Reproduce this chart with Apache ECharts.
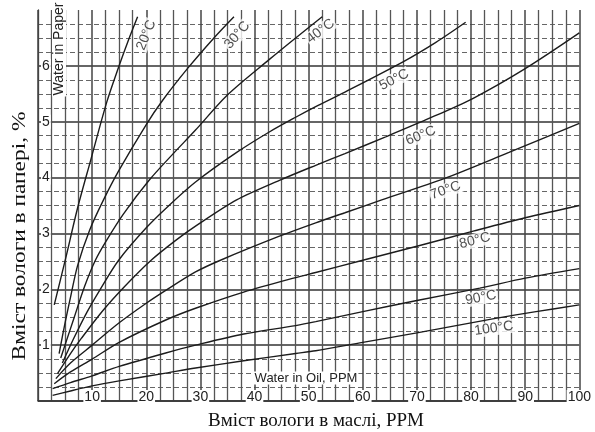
<!DOCTYPE html>
<html><head><meta charset="utf-8">
<script src="https://cdn.jsdelivr.net/npm/echarts@6/dist/echarts.min.js"></script>
<style>html,body{margin:0;padding:0;background:#fff}#c{width:595px;height:432px}</style>
</head><body><div id="c"></div>
<script>
// ---- data (ppm water in oil, % water in paper) ----
const temperatures = ['20°C','30°C','40°C','50°C','60°C','70°C','80°C','90°C','100°C'];
const curve20 = [[3.0,1.72],[5.1,2.55],[7.3,3.45],[9.7,4.3],[12.7,5.35],[14.9,5.98],[16.7,6.46],[18.4,6.88]];
const curve30 = [[3.9,0.85],[5.0,1.4],[6.1,1.9],[7.3,2.42],[9.5,3.05],[12.1,3.6],[14.9,4.12],[20,4.95],[23,5.38],[27.6,5.95],[32.5,6.5],[36.2,6.88]];
const curve40 = [[4.2,0.77],[6.7,1.5],[8.6,2.05],[10.6,2.52],[12.5,2.85],[15.8,3.35],[20.6,3.96],[24.9,4.42],[29.1,4.85],[34.9,5.47],[42.8,6.12],[47.6,6.5],[52.5,6.88]];
const curve50 = [[4.5,0.68],[6.5,1.1],[9.1,1.6],[11.5,2.0],[14.9,2.52],[20,3.1],[24.2,3.5],[29.1,3.92],[36.7,4.45],[42.8,4.82],[47.6,5.08],[51.3,5.27],[56.7,5.53],[67.6,6.08],[73.5,6.42],[79,6.78]];
const curve60 = [[3.6,0.49],[6,0.85],[8,1.12],[12,1.62],[16,2.05],[20.9,2.52],[25.5,2.88],[29.1,3.13],[36.7,3.6],[44.6,3.95],[51.3,4.22],[56.7,4.43],[64,4.72],[71.8,5.04],[80.4,5.42],[90,5.95],[100,6.59]];
const curve70 = [[3.3,0.4],[6,0.68],[10,1.0],[15,1.4],[20,1.75],[23.6,1.98],[29.1,2.31],[33.7,2.52],[44.6,2.95],[51.3,3.19],[56.7,3.37],[63.5,3.6],[75,3.98],[87,4.45],[100,4.97]];
const curve80 = [[3.0,0.31],[6,0.52],[10,0.75],[15,1.05],[23.6,1.45],[29.1,1.66],[38,1.95],[47.6,2.21],[51.3,2.3],[60,2.52],[70,2.77],[80.4,3.04],[90,3.28],[100,3.5]];
const curve90 = [[2.7,0.22],[6,0.33],[10,0.45],[15,0.62],[23.6,0.86],[29.1,1.0],[38,1.2],[47.6,1.35],[51.3,1.42],[60,1.6],[70,1.8],[81.6,2.02],[90,2.2],[100,2.37]];
const curve100 = [[2.7,0.1],[6,0.18],[10,0.27],[15,0.36],[23.6,0.5],[29.1,0.59],[38,0.72],[47.6,0.85],[51.3,0.9],[60,1.05],[70,1.22],[84,1.47],[92,1.6],[100,1.72]];
const xTickLabels = [10,20,30,40,50,60,70,80,90,100];
const yTickLabels = [1,2,3,4,5,6];

const curves = [curve20,curve30,curve40,curve50,curve60,curve70,curve80,curve90,curve100];

// ---- label placement (data coordinates) and angles ----
const labelAnchors = [[20.0,6.55],[36.8,6.55],[52.2,6.62],[65.8,5.75],[70.7,4.75],[75.3,3.77],[80.7,2.87],[81.8,1.85],[84.2,1.3]];
const labelAngles = [68,50,37,27,22,19,14,11,8];

const chart = echarts.init(document.getElementById('c'), null, {renderer:'canvas'});
const narrow = "'Liberation Sans Narrow','Liberation Sans',Arial,sans-serif";

const series = curves.map((d,i)=>({
  type:'line', name:temperatures[i], data:d, smooth:0.3, symbol:'none',
  lineStyle:{color:'#1c1c1c', width:1.4}, z:3, silent:true
}));
series.push({
  type:'scatter', symbolSize:1, itemStyle:{color:'rgba(0,0,0,0)'}, z:5, silent:true,
  data: labelAnchors.map((p,i)=>({value:p, label:{rotate:labelAngles[i], formatter:temperatures[i]}})),
  label:{show:true, position:'inside', fontFamily:narrow, fontSize:14, color:'#222',
         backgroundColor:'#fff', padding:[0,1]}
});

chart.setOption({
  animation:false,
  backgroundColor:'#fff',
  grid:{left:38, right:8, top:10, bottom:31, containLabel:false},
  xAxis:{
    type:'value', min:0, max:100, interval:10,
    axisLine:{show:true, lineStyle:{color:'#333', width:1.5}},
    axisTick:{show:false},
    axisLabel:{showMinLabel:false, formatter:v=>xTickLabels.includes(v)?String(v):'',
      verticalAlign:'middle', margin:-4, fontFamily:narrow, fontSize:14, color:'#222',
      backgroundColor:'#fff', padding:[0,1]},
    splitLine:{show:true, lineStyle:{color:'#444', width:1.5}},
    minorTick:{show:false, splitNumber:4},
    minorSplitLine:{show:true, lineStyle:{color:'#555', width:1.3}}
  },
  yAxis:{
    type:'value', min:0, max:7, interval:1,
    axisLine:{show:true, lineStyle:{color:'#444', width:1.3}},
    axisTick:{show:false},
    axisLabel:{inside:true, showMinLabel:false, showMaxLabel:false,
      formatter:v=>yTickLabels.includes(v)?String(v):'',
      margin:3, fontFamily:narrow, fontSize:14, color:'#222', backgroundColor:'#fff', padding:[0,1]},
    splitLine:{show:true, showMaxLine:false, lineStyle:{color:'#333', width:1.6}},
    minorTick:{show:false, splitNumber:4},
    minorSplitLine:{show:true, lineStyle:{color:'#666', width:1.2, type:[5,3]}}
  },
  graphic:[
    {type:'text', x:59, y:49, rotation:Math.PI/2, z:10,
     style:{text:'Water in Paper', font:"14px 'Liberation Sans',Arial", fill:'#222',
       textAlign:'center', textVerticalAlign:'middle', backgroundColor:'#fff', padding:[0,1]}},
    {type:'text', x:306, y:378, z:10,
     style:{text:'Water in Oil, PPM', font:"13px 'Liberation Sans',Arial", fill:'#222',
       textAlign:'center', textVerticalAlign:'middle', backgroundColor:'#fff', padding:[0,1]}},
    {type:'text', x:20, y:236, rotation:Math.PI/2, scaleX:1.3,
     style:{text:'Вміст вологи в папері, %', font:"18px 'Liberation Serif','Times New Roman',serif", fill:'#111',
       textAlign:'center', textVerticalAlign:'middle'}},
    {type:'text', x:316, y:421,
     style:{text:'Вміст вологи в маслі, PPM', font:"19px 'Liberation Serif','Times New Roman',serif", fill:'#111',
       textAlign:'center', textVerticalAlign:'middle'}}
  ],
  series
});
</script></body></html>
